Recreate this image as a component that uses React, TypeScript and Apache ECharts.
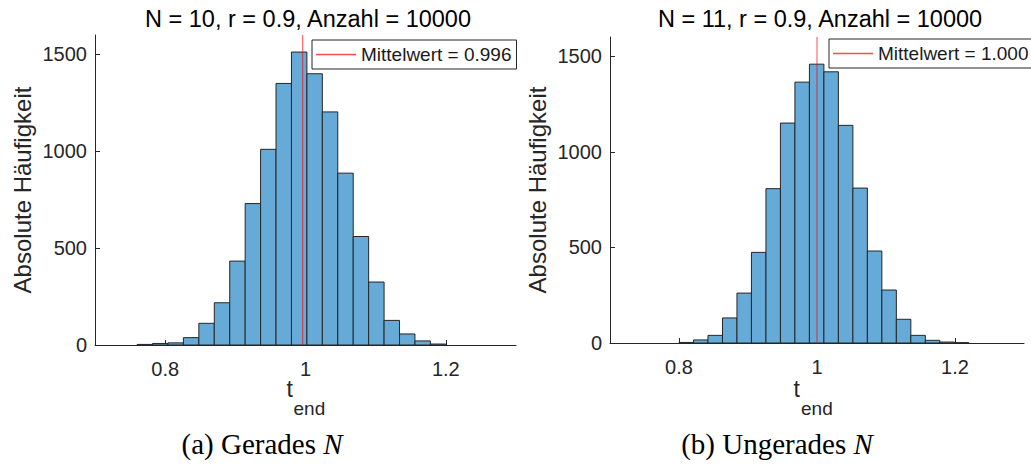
import React, { useEffect, useRef } from 'react';
import * as echarts from 'echarts';

// ---- data ----
const leftEdges = [0.76, 0.782, 0.804, 0.826, 0.848, 0.87, 0.892, 0.914, 0.936, 0.958, 0.98, 1.002, 1.024, 1.046, 1.068, 1.09, 1.112, 1.134, 1.156, 1.178, 1.2];
const leftCounts = [3, 8, 11, 38, 112, 218, 433, 730, 1010, 1350, 1512, 1400, 1203, 887, 560, 325, 127, 57, 21, 5];
const rightEdges = [0.8, 0.821, 0.842, 0.863, 0.884, 0.905, 0.926, 0.947, 0.968, 0.989, 1.01, 1.031, 1.052, 1.073, 1.094, 1.115, 1.136, 1.157, 1.178, 1.199, 1.22];
const rightCounts = [3, 16, 40, 131, 261, 474, 807, 1150, 1364, 1458, 1418, 1138, 810, 481, 277, 124, 40, 14, 5, 2];
const leftMean = 0.996;
const rightMean = 1.0;
const leftMeanLabel = 'Mittelwert = 0.996';
const rightMeanLabel = 'Mittelwert = 1.000';
const leftTitle = 'N = 10, r = 0.9, Anzahl = 10000';
const rightTitle = 'N = 11, r = 0.9, Anzahl = 10000';
const xTicks = [0.8, 1, 1.2];
const yTicks = [0, 500, 1000, 1500];
const xRange = [0.7, 1.3];
const yRange = [0, 1600];
const yLabel = 'Absolute Häufigkeit';
const leftCaption = '(a) Gerades {i|N}';
const rightCaption = '(b) Ungerades {i|N}';

const SANS = "'Liberation Sans', Arial, Helvetica, sans-serif";
const SERIF = "'Liberation Serif', 'Times New Roman', serif";
const AX = '#262626';
const BAR = 'rgb(102,170,215)';
const RED = 'rgba(255,0,0,0.7)';

function histData(edges: number[], counts: number[]) {
  return counts.map((c, i) => [edges[i], edges[i + 1], c]);
}

function renderBar(params: any, api: any) {
  const lo = api.value(0);
  const hi = api.value(1);
  const c = api.value(2);
  const p0 = api.coord([lo, 0]);
  const p1 = api.coord([hi, c]);
  return {
    type: 'rect',
    shape: { x: p0[0], y: p1[1], width: p1[0] - p0[0], height: p0[1] - p1[1] },
    style: { fill: BAR, stroke: AX, lineWidth: 1 },
  };
}

function xAxisCfg(gridIndex: number) {
  return {
    type: 'value',
    gridIndex,
    min: xRange[0],
    max: xRange[1],
    axisLine: { show: true, lineStyle: { color: AX, width: 1 } },
    axisTick: { show: true, inside: true, length: 5, customValues: xTicks, lineStyle: { color: AX } },
    axisLabel: {
      customValues: xTicks,
      margin: 14,
      color: AX,
      fontSize: 20,
      fontFamily: SANS,
      formatter: (v: number) => String(v),
    },
    splitLine: { show: false },
  };
}

function yAxisCfg(gridIndex: number) {
  return {
    type: 'value',
    gridIndex,
    min: yRange[0],
    max: yRange[1],
    axisLine: { show: true, lineStyle: { color: AX, width: 1 } },
    axisTick: { show: true, inside: true, length: 5, customValues: yTicks, lineStyle: { color: AX } },
    axisLabel: {
      customValues: yTicks,
      margin: 8,
      color: AX,
      fontSize: 20,
      fontFamily: SANS,
      formatter: (v: number) => String(v),
    },
    splitLine: { show: false },
  };
}

function legendCfg(name: string, left: number, top: number, padding: number[]) {
  return {
    data: [{ name, icon: 'rect' }],
    left,
    top,
    orient: 'horizontal',
    padding,
    itemWidth: 40,
    itemHeight: 1.5,
    itemGap: 0,
    selectedMode: false,
    borderColor: AX,
    borderWidth: 1,
    backgroundColor: '#ffffff',
    itemStyle: { color: RED },
    textStyle: { fontSize: 19, fontFamily: SANS, color: '#1a1a1a' },
  };
}

export default function App() {
  const ref = useRef<HTMLDivElement>(null);
  useEffect(() => {
    document.body.style.margin = '0';
    if (!ref.current) return;
    const chart = echarts.init(ref.current, null, { renderer: 'svg' });
    const titleStyle = { fontSize: 23.5, fontFamily: SANS, fill: '#000', textAlign: 'center', textVerticalAlign: 'middle' };
    const yLabelStyle = { text: yLabel, fontSize: 24, fontFamily: SANS, fill: AX, textAlign: 'center', textVerticalAlign: 'middle' };
    const tStyle = { text: 't', fontSize: 23, fontFamily: SANS, fill: AX, textAlign: 'left', textVerticalAlign: 'middle' };
    const endStyle = { text: 'end', fontSize: 19, fontFamily: SANS, fill: AX, textAlign: 'left', textVerticalAlign: 'middle' };
    const capRich = { i: { fontStyle: 'italic', fontSize: 29, fontFamily: SERIF, fill: '#000' } };
    const option: any = {
      animation: false,
      backgroundColor: '#ffffff',
      grid: [
        { left: 95, top: 35, width: 421, height: 310 },
        { left: 610, top: 37, width: 414, height: 306 },
      ],
      xAxis: [xAxisCfg(0), xAxisCfg(1)],
      yAxis: [yAxisCfg(0), yAxisCfg(1)],
      legend: [
        legendCfg(leftMeanLabel, 312, 40, [5, 5, 5, 4]),
        legendCfg(rightMeanLabel, 829, 39, [5, 4, 5, 4]),
      ],
      series: [
        {
          type: 'custom',
          name: 'hist1',
          xAxisIndex: 0,
          yAxisIndex: 0,
          renderItem: renderBar,
          encode: { x: [0, 1], y: 2 },
          data: histData(leftEdges, leftCounts),
          z: 2,
          silent: true,
        },
        {
          type: 'custom',
          name: 'hist2',
          xAxisIndex: 1,
          yAxisIndex: 1,
          renderItem: renderBar,
          encode: { x: [0, 1], y: 2 },
          data: histData(rightEdges, rightCounts),
          z: 2,
          silent: true,
        },
        {
          type: 'line',
          name: leftMeanLabel,
          xAxisIndex: 0,
          yAxisIndex: 0,
          data: [[leftMean, yRange[0]], [leftMean, yRange[1]]],
          symbol: 'none',
          color: RED,
          lineStyle: { color: RED, width: 1 },
          z: 3,
          silent: true,
        },
        {
          type: 'line',
          name: rightMeanLabel,
          xAxisIndex: 1,
          yAxisIndex: 1,
          data: [[rightMean, yRange[0]], [rightMean, yRange[1]]],
          symbol: 'none',
          color: RED,
          lineStyle: { color: RED, width: 1 },
          z: 3,
          silent: true,
        },
      ],
      graphic: [
        { type: 'text', x: 308, y: 18.6, style: { ...titleStyle, text: leftTitle } },
        { type: 'text', x: 820, y: 18.6, style: { ...titleStyle, text: rightTitle } },
        { type: 'text', x: 22, y: 190, rotation: Math.PI / 2, style: yLabelStyle },
        { type: 'text', x: 537, y: 190, rotation: Math.PI / 2, style: yLabelStyle },
        { type: 'text', x: 286.5, y: 389, style: tStyle },
        { type: 'text', x: 293.5, y: 408.5, style: endStyle },
        { type: 'text', x: 793.5, y: 389, style: tStyle },
        { type: 'text', x: 801, y: 408.5, style: endStyle },
        {
          type: 'text', x: 262, y: 443.5,
          style: { text: leftCaption, fontSize: 29, fontFamily: SERIF, fill: '#000', textAlign: 'center', textVerticalAlign: 'middle', rich: capRich },
        },
        {
          type: 'text', x: 777, y: 443.5,
          style: { text: rightCaption, fontSize: 29, fontFamily: SERIF, fill: '#000', textAlign: 'center', textVerticalAlign: 'middle', rich: capRich },
        },
      ],
    };
    chart.setOption(option);
    return () => chart.dispose();
  }, []);
  return <div ref={ref} style={{ width: 1031, height: 466 }} />;
}
